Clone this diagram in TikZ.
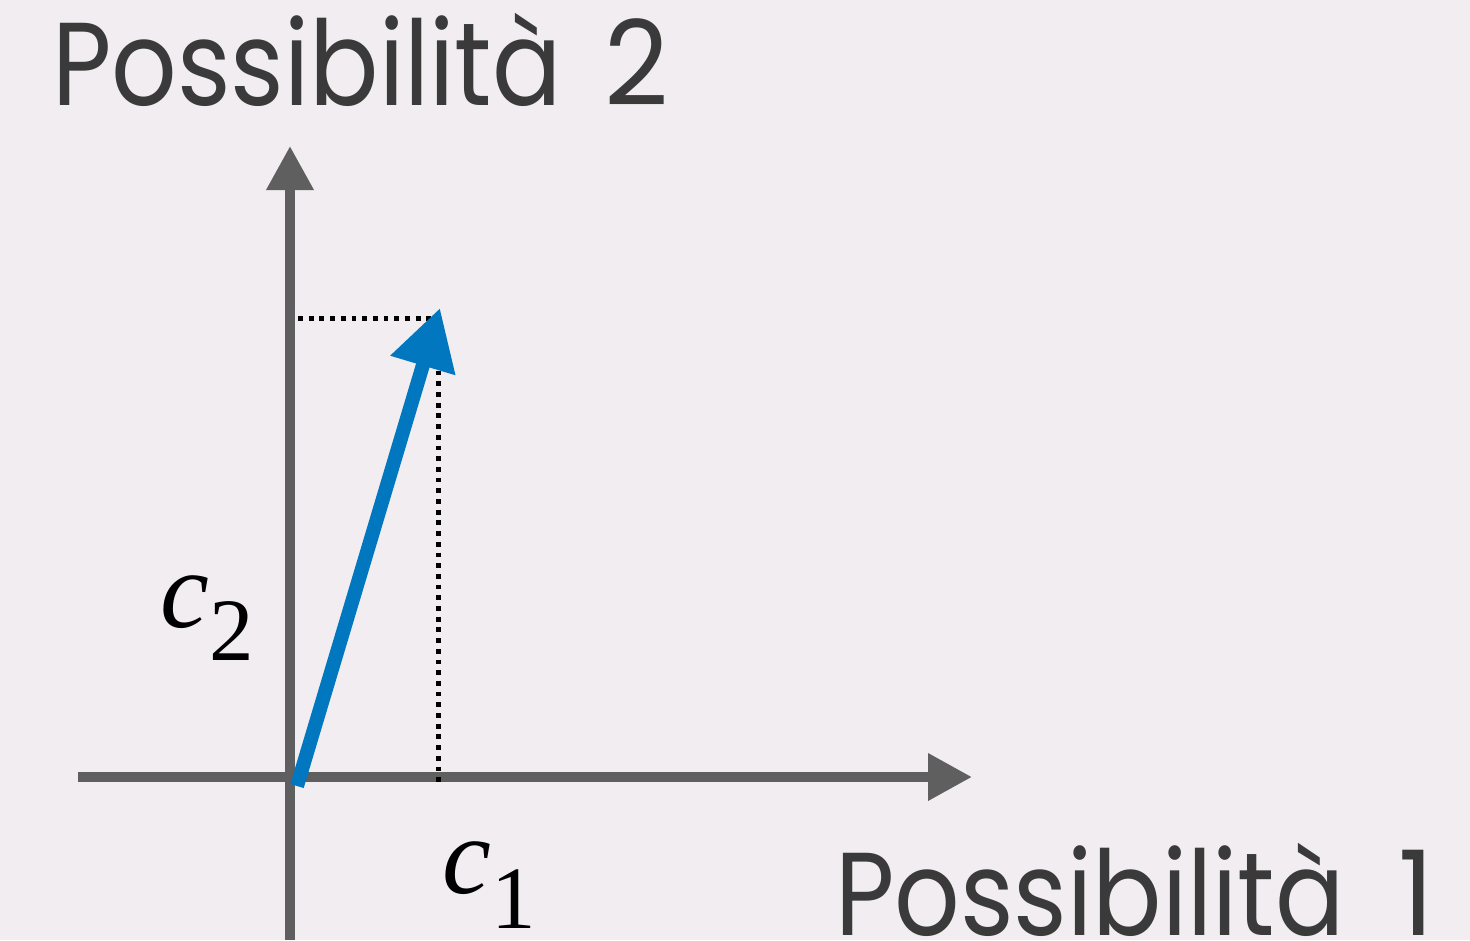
\documentclass[tikz,border=0pt]{standalone}
\usepackage{fontspec}
\setmainfont{Poppins}
\newfontfamily\tms{Liberation Serif}
\usetikzlibrary{arrows.meta}
\definecolor{bg}{HTML}{F1EDF0}
\definecolor{axisgray}{HTML}{5F5F5F}
\definecolor{txtgray}{HTML}{3A3A3A}
\definecolor{vecblue}{RGB}{0,119,190}
\tikzset{
  axisline/.style={draw=axisgray, line width=10pt, -{Triangle[length=44pt,width=45pt]}},
  vecline/.style={draw=vecblue, line width=14pt, -{Triangle[length=60pt,width=64pt]}},
  dotline/.style={draw=black, line width=5pt, dash pattern=on 4.8pt off 5.9pt},
  axislabel/.style={inner sep=0pt, anchor=base west, text=txtgray, font=\fontsize{118}{120}\selectfont},
  varlabel/.style={inner sep=0pt, anchor=base west, text=black, font=\fontsize{110}{112}\selectfont\tms}
}
\begin{document}
\begin{tikzpicture}[x=1pt,y=-1pt]
\fill[bg] (0,0) rectangle (1470,940);
\useasboundingbox (0,0) rectangle (1470,940);
\coordinate (xs) at (78,777);
\coordinate (xe) at (972,777);
\coordinate (ys) at (290,940);
\coordinate (ye) at (290,146);
\coordinate (vt) at (297,786);
\coordinate (vh) at (440,308);
\coordinate (pc) at (438,318);
\coordinate (hd) at (298,318);
\coordinate (vd) at (438,784);
\draw[axisline] (xs) -- (xe);
\draw[axisline] (ys) -- (ye);
\draw[dotline] (hd) -- (pc) -- (vd);
\draw[vecline] (vt) -- (vh);
\node[axislabel] (l2) at (52,105) {\scalebox{0.87}[1]{Possibilità}};
\node[axislabel] (n2) at (604,105) {\scalebox{0.95}[1]{2}};
\node[axislabel] (l1) at (835,935) {\scalebox{0.87}[1]{Possibilità}};
\node[axislabel] (n1) at (1398,935) {\scalebox{0.95}[1]{1}};
\node[varlabel] (c2) at (160,627) {\itshape c\raisebox{-33pt}{\upshape\fontsize{89}{90}\selectfont 2}};
\node[varlabel] (c1) at (442,893) {\itshape c\raisebox{-35pt}{\upshape\fontsize{89}{90}\selectfont 1}};
\end{tikzpicture}
\end{document}
